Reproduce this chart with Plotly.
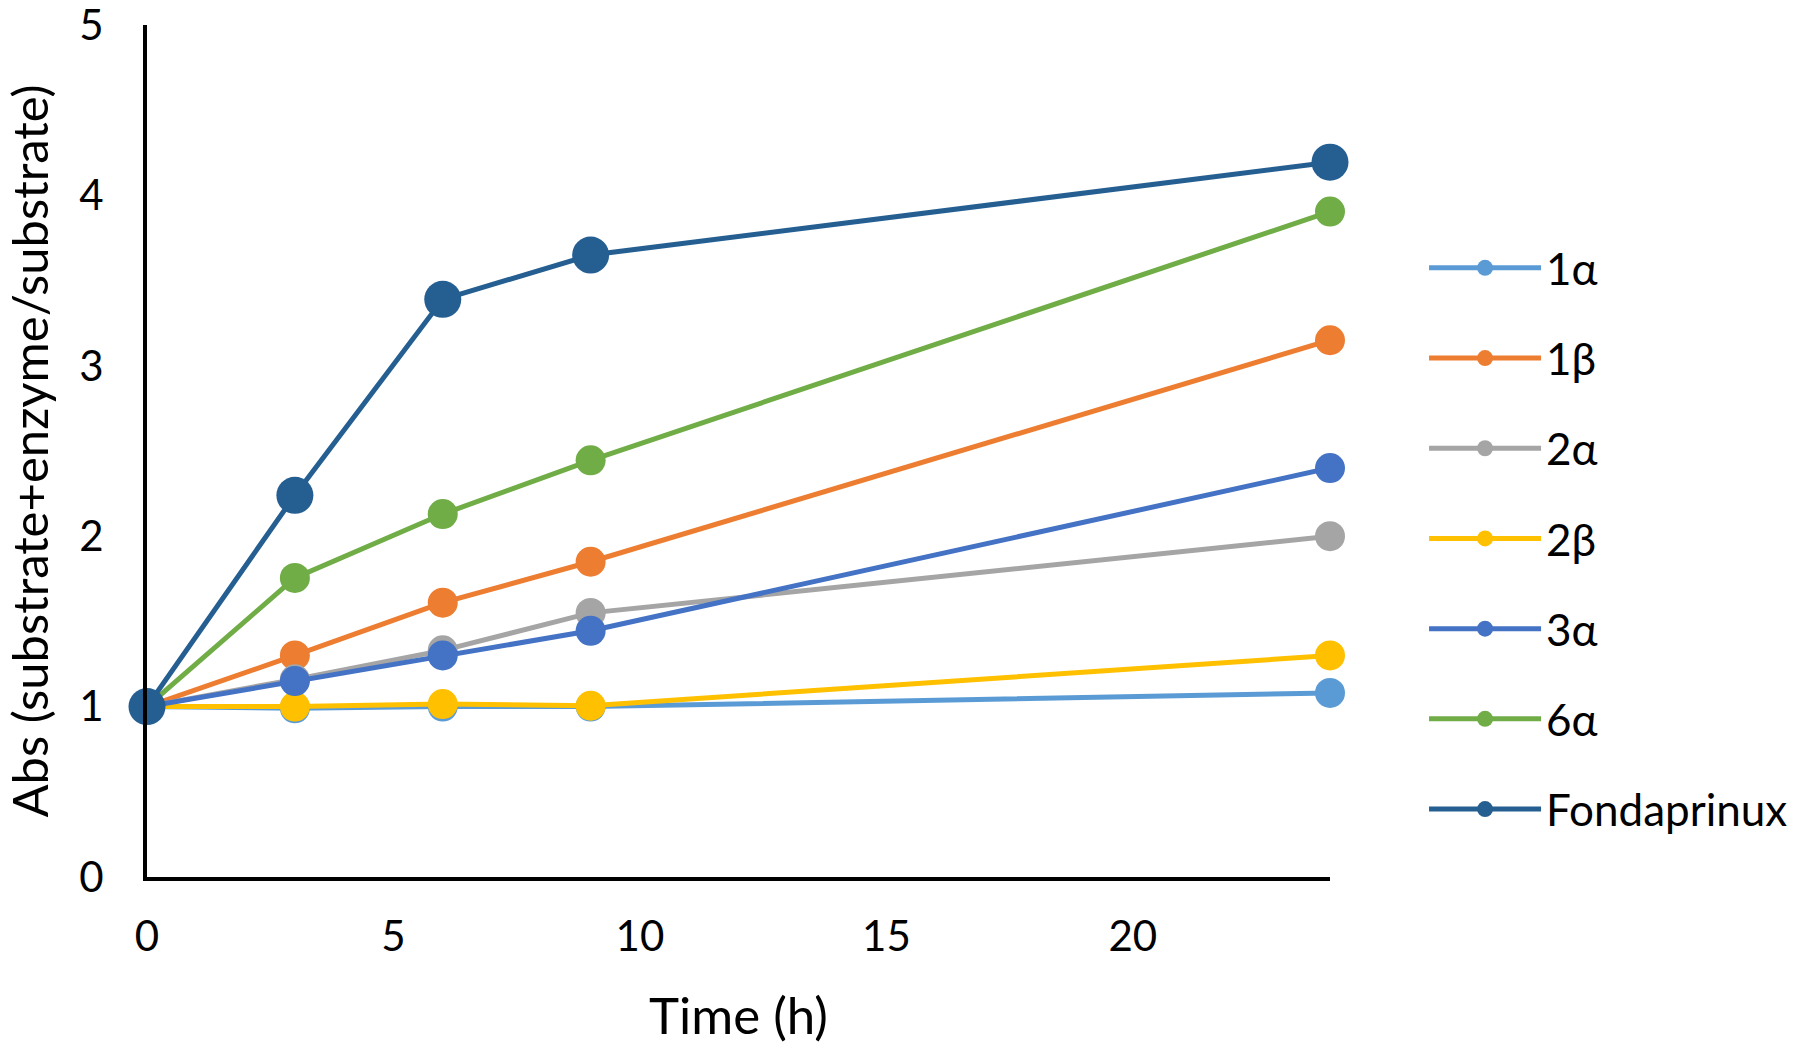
import plotly.graph_objects as go

time_h = [0, 3, 6, 9, 24]
series_names = ["1α", "1β", "2α", "2β", "3α", "6α", "Fondaprinux"]
s_1a = [1.0, 0.99, 1.0, 1.0, 1.08]
s_1b = [1.0, 1.30, 1.61, 1.85, 3.15]
s_2a = [1.0, 1.16, 1.33, 1.55, 2.0]
s_2b = [1.0, 1.0, 1.015, 1.005, 1.30]
s_3a = [1.0, 1.15, 1.30, 1.445, 2.40]
s_6a = [1.0, 1.755, 2.13, 2.445, 3.905]
s_fond = [1.0, 2.24, 3.39, 3.65, 4.195]
colors = ["#5B9BD5", "#ED7D31", "#A5A5A5", "#FFC000", "#4472C4", "#70AD47", "#255E91"]
marker_sizes = [30, 30, 30, 30, 30, 30, 37]

all_series = [s_1a, s_1b, s_2a, s_2b, s_3a, s_6a, s_fond]

FONT = "Lato, Carlito, Calibri, sans-serif"

fig = go.Figure()
for name, ys, col, ms in zip(series_names, all_series, colors, marker_sizes):
    fig.add_trace(go.Scatter(
        x=time_h, y=ys, name=name, mode="lines+markers",
        line=dict(color=col, width=5),
        marker=dict(color=col, size=ms),
        legendgroup=name, cliponaxis=False,
    ))

fig.update_layout(
    width=1800, height=1054,
    paper_bgcolor="white", plot_bgcolor="white",
    margin=dict(l=147, r=470, t=25, b=177, autoexpand=False),
    font=dict(family=FONT, size=42, color="black"),
    showlegend=True,
    legend=dict(
        x=1.0795, xanchor="left", y=0.397, yanchor="middle",
        font=dict(family=FONT, size=44, color="black"),
        itemwidth=112, tracegroupgap=30, traceorder="grouped",
        bgcolor="rgba(0,0,0,0)",
    ),
    xaxis=dict(
        range=[0, 24], tickvals=[0, 5, 10, 15, 20], showgrid=False, zeroline=False,
        showline=True, linecolor="black", linewidth=4, ticks="",
        ticklabelstandoff=20, automargin=False, ticklabeloverflow="allow",
        title=dict(text="Time (h)", font=dict(family=FONT, size=51, color="black"), standoff=40),
        tickfont=dict(family=FONT, size=42, color="black"),
    ),
    yaxis=dict(
        range=[0, 5], tickvals=[0, 1, 2, 3, 4, 5], showgrid=False, zeroline=False,
        showline=True, linecolor="black", linewidth=4, ticks="",
        ticklabelstandoff=31, automargin=False, ticklabeloverflow="allow",
        title=dict(text="Abs (substrate+enzyme/substrate)", font=dict(family=FONT, size=49, color="black"), standoff=20),
        tickfont=dict(family=FONT, size=42, color="black"),
    ),
)

fig.write_html("out.html", config={"displayModeBar": False},
               post_script="document.body.style.margin='0';")
